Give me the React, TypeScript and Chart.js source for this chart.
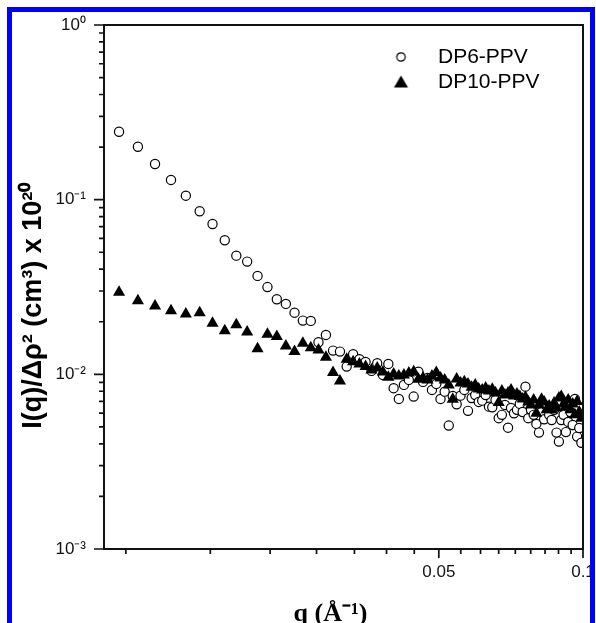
import React, { useEffect, useRef } from 'react';
import { Chart, registerables } from 'chart.js';

Chart.register(...registerables);

// q values (Å^-1)
const Q = [
  0.01075, 0.01177, 0.01278, 0.0138, 0.01482, 0.01584, 0.01685, 0.01787, 0.01889, 0.0199,
  0.02092, 0.02194, 0.02295, 0.02397, 0.02499, 0.02601, 0.02702, 0.02804, 0.02906, 0.03007,
  0.03109, 0.03211, 0.03312, 0.03414, 0.03516, 0.03618, 0.03719, 0.03821, 0.03923, 0.04024,
  0.04126, 0.04228, 0.04329, 0.04431, 0.04533, 0.04635, 0.04736, 0.04838, 0.0494, 0.05041,
  0.05143, 0.05245, 0.05346, 0.05448, 0.0555, 0.05652, 0.05753, 0.05855, 0.05957, 0.06058,
  0.0616, 0.06262, 0.06363, 0.06465, 0.06567, 0.06669, 0.0677, 0.06872, 0.06974, 0.07075,
  0.07177, 0.07279, 0.0738, 0.07482, 0.07584, 0.07686, 0.07787, 0.07889, 0.07991, 0.08092,
  0.08194, 0.08296, 0.08397, 0.08499, 0.08601, 0.08703, 0.08804, 0.08906, 0.09008, 0.09109,
  0.09211, 0.09313, 0.09414, 0.09516, 0.09618, 0.0972, 0.09821, 0.09923,
];

const DP6 = [
  0.2449, 0.201, 0.1601, 0.1297, 0.1054, 0.0858, 0.0726, 0.0586, 0.0478, 0.0442,
  0.0366, 0.0316, 0.0269, 0.0253, 0.02254, 0.0203, 0.02022, 0.01527, 0.01681, 0.01367,
  0.01349, 0.01107, 0.01303, 0.0122, 0.01178, 0.01046, 0.01157, 0.00992, 0.01147, 0.00833,
  0.00723, 0.0087, 0.00929, 0.00746, 0.01036, 0.00905, 0.00954, 0.00814, 0.00881, 0.00723,
  0.00796, 0.00509, 0.00752, 0.00674, 0.00755, 0.00814, 0.00618, 0.00732, 0.00762, 0.00695,
  0.00707, 0.00762, 0.00653, 0.00648, 0.00714, 0.00561, 0.00586, 0.00668, 0.00495, 0.00642,
  0.00599, 0.00626, 0.00677, 0.00609, 0.0085, 0.00561, 0.00626, 0.00586, 0.0052, 0.00464,
  0.00609, 0.00553, 0.00659, 0.00586, 0.00548, 0.00626, 0.00464, 0.00412, 0.00548, 0.00586,
  0.00467, 0.00534, 0.00609, 0.00513, 0.00723, 0.0044, 0.00493, 0.00406,
];

const DP10 = [
  0.02951, 0.02642, 0.02462, 0.02315, 0.02216, 0.02254, 0.01961, 0.01779, 0.01925, 0.01749,
  0.01403, 0.01697, 0.01644, 0.01454, 0.01349, 0.01507, 0.01421, 0.01379, 0.01253, 0.01023,
  0.00917, 0.0122, 0.01182, 0.01147, 0.01107, 0.0106, 0.01088, 0.01032, 0.00962, 0.01005,
  0.00979, 0.00992, 0.01019, 0.01036, 0.00937, 0.00954, 0.00929, 0.00979, 0.01023, 0.00954,
  0.00929, 0.0087, 0.0072, 0.00941, 0.00893, 0.00908, 0.00881, 0.00844, 0.0087, 0.00825,
  0.00814, 0.00836, 0.00804, 0.00822, 0.00782, 0.00689, 0.00804, 0.00762, 0.00782, 0.00814,
  0.00752, 0.00772, 0.00746, 0.00723, 0.00739, 0.00695, 0.00668, 0.00714, 0.00599, 0.00668,
  0.0072, 0.00695, 0.00626, 0.00659, 0.00626, 0.00686, 0.00642, 0.00732, 0.00746, 0.00677,
  0.00653, 0.00714, 0.00626, 0.00677, 0.00586, 0.00698, 0.00609, 0.00561,
];

const SERIES_LABELS = ['DP6-PPV', 'DP10-PPV'];

const X_MAJOR_TICKS = [0.05, 0.1];
const X_MAJOR_LABELS = ['0.05', '0.1'];
const X_MINOR_TICKS = [
  0.01111, 0.01667, 0.02222, 0.02778, 0.03333, 0.03889, 0.04444,
  0.05556, 0.06111, 0.06667, 0.07222, 0.07778, 0.08333, 0.08889, 0.09444,
];
const Y_MAJOR_TICKS = [0.001, 0.01, 0.1, 1];
const Y_MAJOR_LABELS = ['10⁻³', '10⁻²', '10⁻¹', '10⁰'];

const X_TITLE = 'q (Å⁻¹)    ';
const Y_TITLE = 'I(q)/Δρ² (cm³) x 10²⁰     ';

function makeMarker(kind: 'circle' | 'triangle'): HTMLCanvasElement {
  const c = document.createElement('canvas');
  c.width = 48;
  c.height = 16;
  const g = c.getContext('2d') as CanvasRenderingContext2D;
  const cx = 17.5;
  const cy = 8;
  g.beginPath();
  if (kind === 'circle') {
    g.arc(cx, cy, 4.2, 0, Math.PI * 2);
    g.fillStyle = '#fff';
    g.fill();
    g.lineWidth = 1.2;
    g.strokeStyle = '#000';
    g.stroke();
  } else {
    g.moveTo(cx, cy - 6.5);
    g.lineTo(cx + 7, cy + 5.5);
    g.lineTo(cx - 7, cy + 5.5);
    g.closePath();
    g.fillStyle = '#000';
    g.fill();
  }
  return c;
}

const frameTicksPlugin = {
  id: 'frameTicks',
  afterLayout(chart: any) {
    const lg = chart.legend;
    const a = chart.chartArea;
    if (lg && a) {
      lg.left = a.right - 199.5;
      lg.top = a.top + 17.5;
      lg.right = a.right;
      lg.bottom = a.bottom;
      lg.width = lg.right - lg.left;
      lg.height = lg.bottom - lg.top;
    }
  },
  afterDraw(chart: any) {
    const { ctx, chartArea: a } = chart;
    const xs = chart.scales.x;
    const ys = chart.scales.y;
    ctx.save();
    ctx.strokeStyle = '#111';
    ctx.lineWidth = 1.7;
    ctx.beginPath();
    for (const v of X_MAJOR_TICKS) {
      const px = xs.getPixelForValue(v);
      ctx.moveTo(px, a.bottom);
      ctx.lineTo(px, a.bottom + 9);
    }
    for (const v of X_MINOR_TICKS) {
      const px = xs.getPixelForValue(v);
      ctx.moveTo(px, a.bottom);
      ctx.lineTo(px, a.bottom + 5);
    }
    for (let i = 0; i < Y_MAJOR_TICKS.length; i++) {
      const d = Y_MAJOR_TICKS[i];
      const py = ys.getPixelForValue(d);
      ctx.moveTo(a.left, py);
      ctx.lineTo(a.left - 10, py);
      if (i < Y_MAJOR_TICKS.length - 1) {
        for (let m = 2; m <= 9; m++) {
          const pm = ys.getPixelForValue(d * m);
          ctx.moveTo(a.left, pm);
          ctx.lineTo(a.left - 5, pm);
        }
      }
    }
    ctx.stroke();
    ctx.lineWidth = 2;
    ctx.strokeStyle = '#111';
    ctx.strokeRect(a.left, a.top, a.right - a.left, a.bottom - a.top);
    ctx.restore();
  },
};

export default function App() {
  const ref = useRef<HTMLCanvasElement | null>(null);

  useEffect(() => {
    if (!ref.current) return;
    Chart.defaults.font.family = "'Liberation Sans', Arial, sans-serif";
    Chart.defaults.color = '#000';
    const markers = [makeMarker('circle'), makeMarker('triangle')];

    const chart = new Chart(ref.current, {
      type: 'scatter',
      data: {
        datasets: [
          {
            label: SERIES_LABELS[0],
            data: Q.map((q, i) => ({ x: q, y: DP6[i] })),
            pointStyle: 'circle',
            pointRadius: 4.6,
            pointBorderWidth: 1.2,
            pointBackgroundColor: '#fff',
            pointBorderColor: '#000',
            order: 2,
            clip: 0,
          },
          {
            label: SERIES_LABELS[1],
            data: Q.map((q, i) => ({ x: q, y: DP10[i] })),
            pointStyle: 'triangle',
            pointRadius: 7,
            pointBorderWidth: 0,
            pointBackgroundColor: '#000',
            pointBorderColor: '#000',
            order: 1,
            clip: 0,
          },
        ],
      },
      options: {
        responsive: false,
        maintainAspectRatio: false,
        devicePixelRatio: 1,
        animation: false,
        events: [],
        layout: { padding: { left: 0, top: 25, right: 13, bottom: 0 } },
        plugins: {
          tooltip: { enabled: false },
          legend: {
            display: true,
            position: 'chartArea',
            align: 'start',
            labels: {
              usePointStyle: true,
              pointStyleWidth: 40,
              padding: 4,
              color: '#000',
              font: { size: 21, family: "'Liberation Sans', Arial, sans-serif" },
              generateLabels: (c: any) =>
                c.data.datasets.map((ds: any, i: number) => ({
                  text: ds.label,
                  fillStyle: '#000',
                  strokeStyle: '#000',
                  lineWidth: 0,
                  pointStyle: markers[i],
                  hidden: false,
                  datasetIndex: i,
                  fontColor: '#000',
                })),
            },
          },
        },
        scales: {
          x: {
            type: 'logarithmic',
            min: 0.01,
            max: 0.1,
            position: 'bottom',
            grid: { display: false, drawTicks: false },
            border: { display: false },
            afterBuildTicks: (s: any) => {
              s.ticks = X_MAJOR_TICKS.map((v) => ({ value: v }));
            },
            afterFit: (s: any) => {
              s.height = 74;
              s.paddingLeft = 0;
              s.paddingRight = 0;
              s.paddingTop = 0;
              s.paddingBottom = 0;
            },
            ticks: {
              autoSkip: false,
              maxRotation: 0,
              minRotation: 0,
              padding: 13,
              color: '#111',
              font: { size: 17 },
              callback: (_v: any, i: number) => X_MAJOR_LABELS[i],
            },
            title: {
              display: true,
              text: X_TITLE,
              color: '#000',
              padding: { top: 0, bottom: -4 },
              font: { size: 26, weight: 'bold', family: "'Liberation Serif', 'Times New Roman', serif", lineHeight: 1 },
            },
          },
          y: {
            type: 'logarithmic',
            min: 0.001,
            max: 1,
            position: 'left',
            grid: { display: false, drawTicks: false },
            border: { display: false },
            afterBuildTicks: (s: any) => {
              s.ticks = Y_MAJOR_TICKS.map((v) => ({ value: v }));
            },
            afterFit: (s: any) => {
              s.width = 104;
              s.paddingLeft = 0;
              s.paddingRight = 0;
              s.paddingTop = 0;
              s.paddingBottom = 0;
            },
            ticks: {
              autoSkip: false,
              padding: 18,
              color: '#111',
              font: { size: 17 },
              callback: (_v: any, i: number) => Y_MAJOR_LABELS[i],
            },
            title: {
              display: true,
              text: Y_TITLE,
              color: '#000',
              padding: { top: 20, bottom: 0 },
              font: { size: 27, weight: 'bold', lineHeight: 1 },
            },
          },
        },
      },
      plugins: [frameTicksPlugin],
    } as any);

    return () => chart.destroy();
  }, []);

  return (
    <div
      style={{
        position: 'fixed',
        left: 0,
        top: 0,
        width: 596,
        height: 623,
        overflow: 'hidden',
        background: '#fff',
      }}
    >
      <canvas
        ref={ref}
        width={596}
        height={623}
        style={{ position: 'absolute', left: 0, top: 0, width: 596, height: 623, display: 'block' }}
      />
      <div
        style={{
          position: 'absolute',
          left: 7,
          top: 7,
          width: 578,
          height: 700,
          borderLeft: '5px solid #0000ff',
          borderTop: '5px solid #0000ff',
          borderRight: '5px solid #0000ff',
          boxSizing: 'content-box',
          pointerEvents: 'none',
        }}
      />
    </div>
  );
}
